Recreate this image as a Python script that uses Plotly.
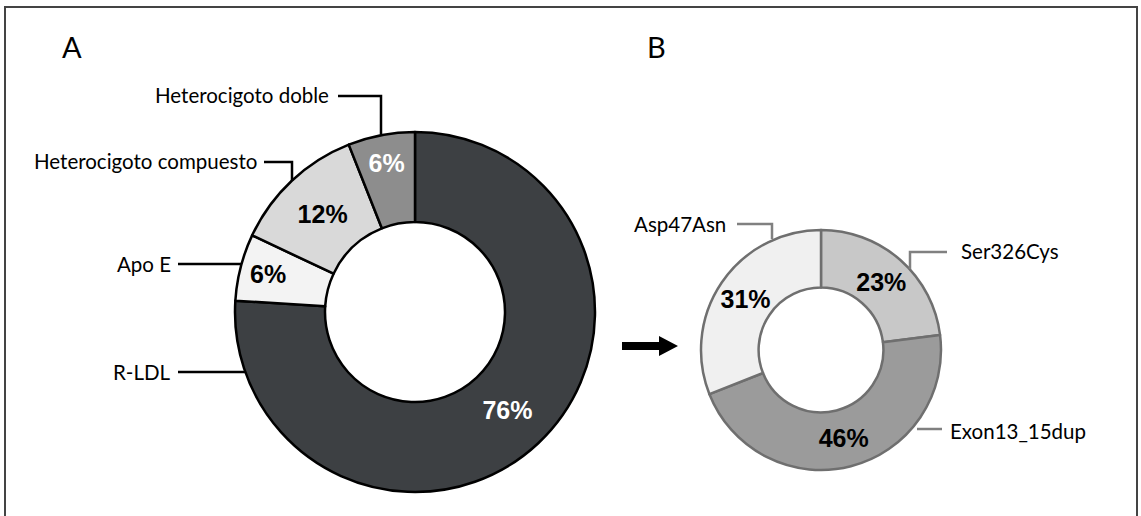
import plotly.graph_objects as go

W, H = 1141, 516

# ---- data ----
a_labels = ["R-LDL", "Apo E", "Heterocigoto compuesto", "Heterocigoto doble"]
a_values = [76, 6, 12, 6]
a_colors = ["#3d4043", "#f3f3f3", "#d9d9d9", "#8d8d8d"]
a_textcolors = ["white", "black", "black", "white"]

b_labels = ["Ser326Cys", "Exon13_15dup", "Asp47Asn"]
b_values = [23, 46, 31]
b_colors = ["#c8c8c8", "#9b9b9b", "#f0f0f0"]


def px(x):
    return x / W


def py(y):
    return 1 - y / H


fig = go.Figure()

fig.add_trace(go.Pie(
    labels=a_labels, values=a_values, sort=False, direction="clockwise", rotation=0,
    hole=0.5,
    marker=dict(colors=a_colors, line=dict(color="black", width=2.5)),
    texttemplate="%{value}%", textposition="inside", insidetextorientation="horizontal",
    textfont=dict(family="Liberation Sans", size=25, color=a_textcolors, weight="bold"),
    domain=dict(x=[px(235), px(595)], y=[py(492), py(132)]),
    showlegend=False, hoverinfo="label+percent",
))

fig.add_trace(go.Pie(
    labels=b_labels, values=b_values, sort=False, direction="clockwise", rotation=0,
    hole=0.52,
    marker=dict(colors=b_colors, line=dict(color="#6f6f6f", width=2.5)),
    texttemplate="%{value}%", textposition="inside", insidetextorientation="horizontal",
    textfont=dict(family="Liberation Sans", size=25, color="black", weight="bold"),
    domain=dict(x=[px(701), px(941)], y=[py(470), py(230)]),
    showlegend=False, hoverinfo="label+percent",
))

shapes = []
# frame
shapes.append(dict(type="rect", xref="paper", yref="paper",
                   x0=px(5), x1=px(1137), y0=py(530), y1=py(7),
                   line=dict(color="#444", width=2)))


def leader(points, color, width=2.5):
    path = "M " + " L ".join(f"{px(x)},{py(y)}" for x, y in points)
    shapes.append(dict(type="path", xref="paper", yref="paper", path=path,
                       line=dict(color=color, width=width)))


# A leaders
leader([(338, 96), (381, 96), (381, 134)], "black")
leader([(264, 162), (292, 162), (292, 181)], "black")
leader([(178, 264), (241, 264)], "black")
leader([(178, 372), (245, 372)], "black")
# B leaders
leader([(737, 224), (772, 224), (772, 239)], "#808080")
leader([(947, 252), (910, 252), (910, 269)], "#808080")
leader([(942, 429), (917, 429)], "#808080")

# arrow
shapes.append(dict(type="path", xref="paper", yref="paper",
                   path=f"M {px(622)},{py(342)} L {px(659)},{py(342)} L {px(659)},{py(336)} "
                        f"L {px(678)},{py(346)} L {px(659)},{py(356)} L {px(659)},{py(350)} "
                        f"L {px(622)},{py(350)} Z",
                   fillcolor="black", line=dict(color="black", width=0)))

lab_font = dict(family="Lato", size=20.5, color="black")
annotations = [
    dict(text="A", x=px(60), y=py(46), xanchor="left", yanchor="middle",
         font=dict(family="Lato", size=29, color="black")),
    dict(text="B", x=px(645), y=py(46), xanchor="left", yanchor="middle",
         font=dict(family="Lato", size=29, color="black")),
    dict(text="Heterocigoto doble", x=px(331), y=py(95), xanchor="right", yanchor="middle", font=lab_font),
    dict(text="Heterocigoto compuesto", x=px(259), y=py(161), xanchor="right", yanchor="middle", font=lab_font),
    dict(text="Apo E", x=px(173), y=py(264), xanchor="right", yanchor="middle", font=lab_font),
    dict(text="R-LDL", x=px(173), y=py(372), xanchor="right", yanchor="middle", font=lab_font),
    dict(text="Asp47Asn", x=px(728), y=py(224), xanchor="right", yanchor="middle", font=lab_font),
    dict(text="Ser326Cys", x=px(959), y=py(251), xanchor="left", yanchor="middle", font=lab_font),
    dict(text="Exon13_15dup", x=px(948), y=py(431), xanchor="left", yanchor="middle", font=lab_font),
]
for a in annotations:
    a.update(xref="paper", yref="paper", showarrow=False)

fig.update_layout(
    width=W, height=H, margin=dict(l=0, r=0, t=0, b=0),
    paper_bgcolor="white", plot_bgcolor="white",
    shapes=shapes, annotations=annotations,
)

fig.write_html("out.html", config={"displayModeBar": False},
               post_script="document.body.style.margin='0px';document.body.style.overflow='hidden';")
